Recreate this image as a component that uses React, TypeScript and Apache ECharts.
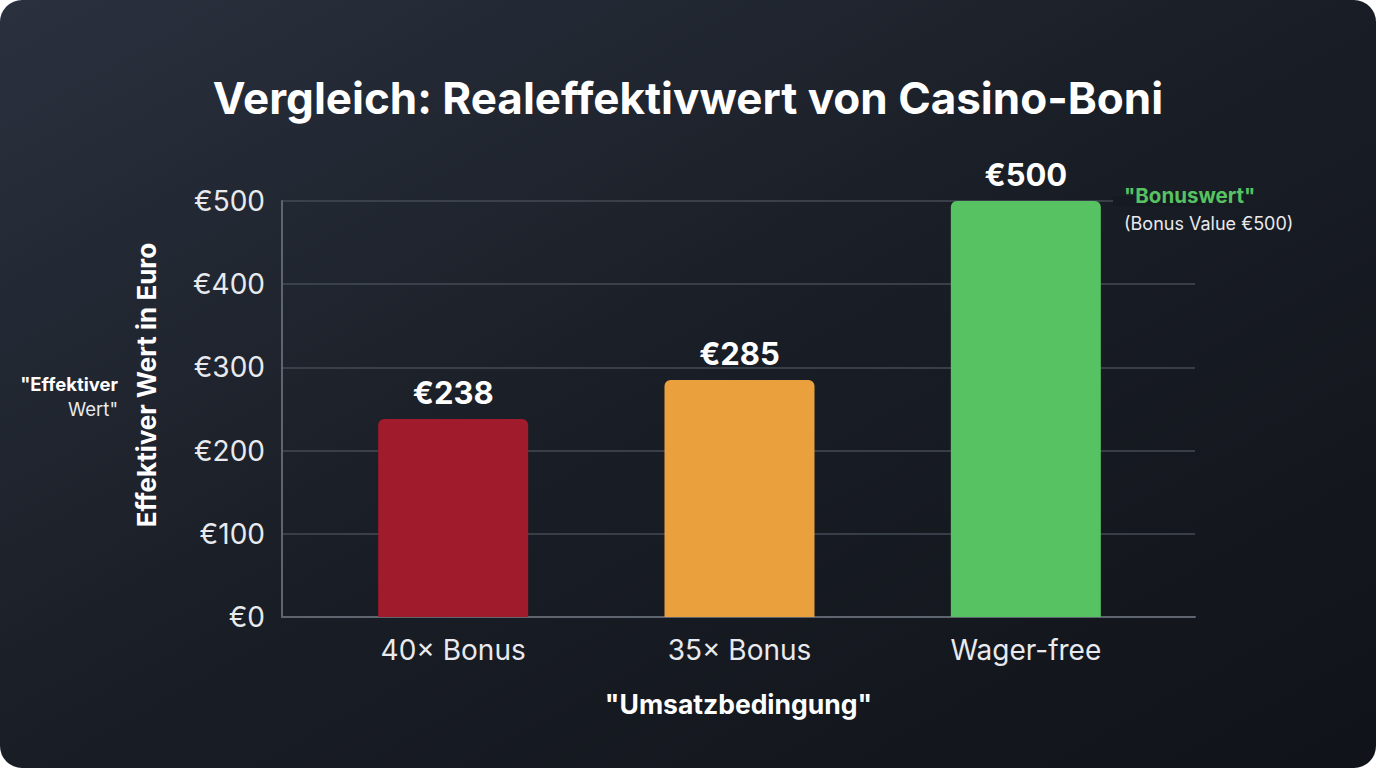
import { useEffect, useRef } from 'react'
import * as echarts from 'echarts'

const categories = ['40× Bonus', '35× Bonus', 'Wager-free']
const values = [238, 285, 500]
const barColors = ['#a01b2b', '#eba03e', '#57c262']
const yTicks = [0, 100, 200, 300, 400, 500]

const FONT = 'Inter, Roboto, "Noto Sans", sans-serif'
const W = 1376
const H = 768

const bgStops = [
  { offset: 0, color: '#2a313e' },
  { offset: 0.5, color: '#191d25' },
  { offset: 1, color: '#101319' }
]

const App: React.FC = () => {
  const chartRef = useRef<HTMLDivElement>(null)

  useEffect(() => {
    if (!chartRef.current) return
    const chart = echarts.init(chartRef.current, undefined, { renderer: 'svg' })

    const option = {
      animation: false,
      backgroundColor: new echarts.graphic.LinearGradient(0, 0, 1, 1, bgStops),
      textStyle: { fontFamily: FONT },
      title: {
        text: 'Vergleich: Realeffektivwert von Casino-Boni',
        left: 'center',
        top: 71,
        textStyle: { color: '#ffffff', fontSize: 44, fontWeight: 'bold', fontFamily: FONT }
      },
      grid: [
        { left: 282, right: 181, top: 201, bottom: 151 },
        { left: 310, right: 207, top: 201, bottom: 151 }
      ],
      xAxis: [
        {
          gridIndex: 0,
          type: 'value',
          min: 0,
          max: 1,
          axisLine: { show: true, lineStyle: { color: '#5f656e', width: 2 } },
          axisTick: { show: false },
          axisLabel: { show: false },
          splitLine: { show: false },
          name: '"Umsatzbedingung"',
          nameLocation: 'middle',
          nameGap: 73,
          nameTextStyle: { color: '#ffffff', fontSize: 26.5, fontWeight: 'bold', fontFamily: FONT }
        },
        {
          gridIndex: 1,
          type: 'category',
          data: categories,
          axisLine: { show: false },
          axisTick: { show: false },
          axisLabel: { color: '#e8eaee', fontSize: 28, margin: 19, fontFamily: FONT }
        }
      ],
      yAxis: [
        {
          gridIndex: 0,
          type: 'value',
          min: 0,
          max: yTicks[yTicks.length - 1],
          interval: 100,
          axisLine: { show: true, lineStyle: { color: '#5f656e', width: 2 } },
          axisTick: { show: false },
          axisLabel: {
            color: '#e8eaee',
            fontSize: 28,
            margin: 17,
            fontFamily: FONT,
            formatter: (v: number) => '€' + v
          },
          splitLine: { lineStyle: { color: '#454b55', width: 1.5 } }
        },
        {
          gridIndex: 1,
          type: 'value',
          min: 0,
          max: yTicks[yTicks.length - 1],
          show: false
        }
      ],
      series: [
        {
          type: 'bar',
          xAxisIndex: 1,
          yAxisIndex: 1,
          barWidth: 150,
          data: values.map((v, i) => ({ value: v, itemStyle: { color: barColors[i] } })),
          itemStyle: { borderRadius: [6, 6, 0, 0] },
          label: {
            show: true,
            position: 'top',
            distance: 11,
            formatter: (p: any) => '€' + p.value,
            color: '#ffffff',
            fontSize: 31,
            fontWeight: 'bold',
            fontFamily: FONT
          }
        }
      ],
      graphic: [
        {
          // hides the end of the top grid line behind the annotation
          type: 'rect',
          z: 10,
          shape: { x: 1113, y: 196, width: 90, height: 10 },
          style: { fill: new echarts.graphic.LinearGradient(0, 0, W, H, bgStops, true) }
        },
        {
          type: 'text',
          z: 11,
          x: 146,
          y: 385,
          rotation: Math.PI / 2,
          style: {
            text: 'Effektiver Wert in Euro',
            align: 'center',
            verticalAlign: 'middle',
            fill: '#ffffff',
            font: `bold 26px ${FONT}`
          }
        },
        {
          type: 'text',
          z: 11,
          x: 118,
          y: 384,
          style: {
            text: '"Effektiver',
            align: 'right',
            verticalAlign: 'middle',
            fill: '#ffffff',
            font: `bold 18.5px ${FONT}`
          }
        },
        {
          type: 'text',
          z: 11,
          x: 118,
          y: 409,
          style: {
            text: 'Wert"',
            align: 'right',
            verticalAlign: 'middle',
            fill: '#e8eaee',
            font: `18.5px ${FONT}`
          }
        },
        {
          type: 'text',
          z: 11,
          x: 1124,
          y: 195,
          style: {
            text: '"Bonuswert"',
            align: 'left',
            verticalAlign: 'middle',
            fill: '#57c262',
            font: `bold 20.5px ${FONT}`
          }
        },
        {
          type: 'text',
          z: 11,
          x: 1124,
          y: 223,
          style: {
            text: '(Bonus Value €500)',
            align: 'left',
            verticalAlign: 'middle',
            fill: '#e8eaee',
            font: `18px ${FONT}`
          }
        }
      ]
    }

    chart.setOption(option)

    return () => {
      chart.dispose()
    }
  }, [])

  return (
    <div
      style={{
        position: 'fixed',
        left: 0,
        top: 0,
        width: W,
        height: H,
        borderRadius: 22,
        overflow: 'hidden',
        background: '#ffffff'
      }}
    >
      <div ref={chartRef} style={{ width: W, height: H }} />
    </div>
  )
}

export default App
